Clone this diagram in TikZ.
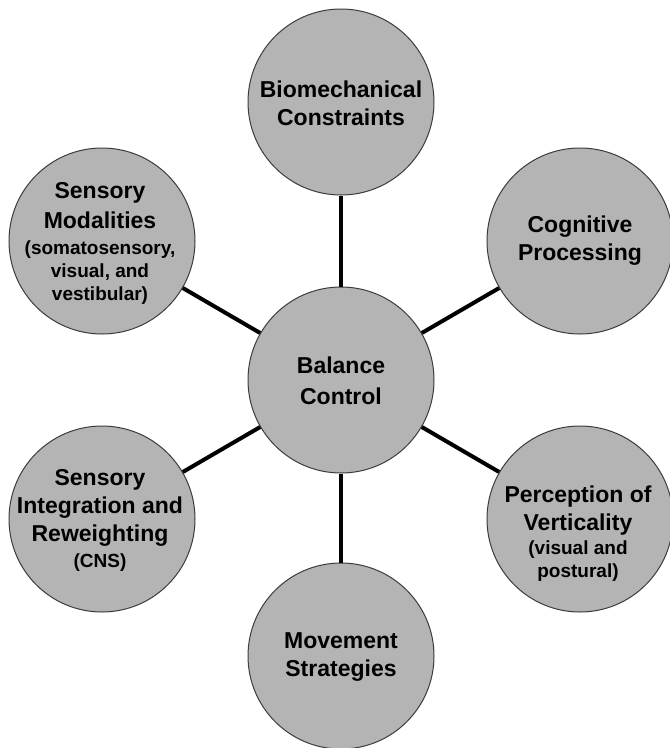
\documentclass[tikz,border=0pt]{standalone}
\usepackage{fontspec}
\setmainfont{Liberation Sans}
\definecolor{circfill}{RGB}{180,180,180}
\definecolor{circedge}{RGB}{60,60,60}
\newcommand\smtxt{\fontsize{19}{23}\selectfont}
\tikzset{
  bub/.style={circle, draw=circedge, line width=1pt, fill=circfill,
    minimum size=186pt, inner sep=0pt},
  bubtext/.style={align=center, inner sep=0pt, font=\bfseries\fontsize{23}{28}\selectfont},
  link/.style={line width=4pt, draw=black},
}
\begin{document}
\begin{tikzpicture}[x=1pt,y=-1pt]
\useasboundingbox[fill=white] (0,0) rectangle (670,748);
% circles
\node[bub] (bc)  at (341,380) {};
\node[bub] (bio) at (341,102) {};
\node[bub] (cog) at (580,241) {};
\node[bub] (per) at (580,519) {};
\node[bub] (mov) at (341,656) {};
\node[bub] (sin) at (102,519) {};
\node[bub] (smo) at (102,241) {};
% connectors
\draw[link] (bc) -- (bio);
\draw[link] (bc) -- (cog);
\draw[link] (bc) -- (per);
\draw[link] (bc) -- (mov);
\draw[link] (bc) -- (sin);
\draw[link] (bc) -- (smo);
% texts
\node[bubtext] (bct) at (341,381) {Balance\\[3pt]Control};
\node[bubtext] (biot) at (341,103) {Biomechanical\\Constraints};
\node[bubtext] (cogt) at (580,241) {Cognitive\\Processing};
\node[bubtext] (movt) at (341,657) {Movement\\Strategies};
\node[bubtext] (smot) at (100,243) {Sensory\\[2pt]Modalities\\[-2pt]{\smtxt(somatosensory,}\\[-5pt]{\smtxt visual, and}\\[-5pt]{\smtxt vestibular)}};
\node[bubtext] (sint) at (100,520) {Sensory\\Integration and\\Reweighting\\[-2pt]{\smtxt(CNS)}};
\node[bubtext] (pert) at (578,534) {Perception of\\Verticality\\[-4pt]{\smtxt(visual and}\\[-5pt]{\smtxt postural)}};
\end{tikzpicture}
\end{document}
